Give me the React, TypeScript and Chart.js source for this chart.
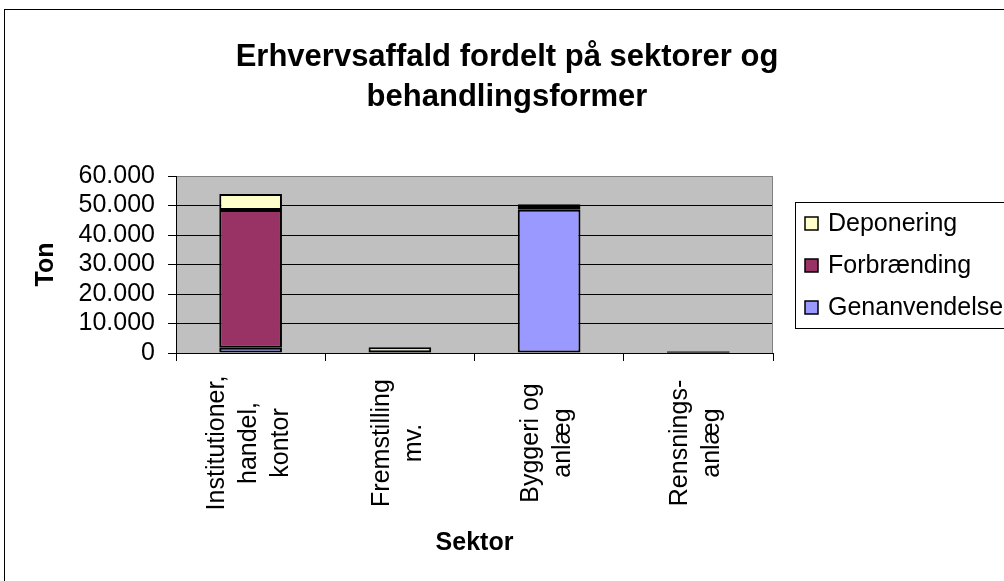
import React, { useEffect, useRef } from "react";
import { Chart, registerables } from "chart.js";

Chart.register(...registerables);

// ---- Data ----
const categories: string[][] = [
  ["Institutioner,", "handel,", "kontor"],
  ["Fremstilling", "mv."],
  ["Byggeri og", "anlæg"],
  ["Rensnings-", "anlæg"],
];
const genanvendelse = [1800, 100, 48600, 100];
const forbraending = [46700, 150, 1300, 400];
const deponering = [5400, 1700, 500, 150];
const seriesNames = ["Genanvendelse", "Forbrænding", "Deponering"];
const seriesColors = ["#9999FF", "#993366", "#FFFFCC"];
const yMin = 0;
const yMax = 60000;
const yStep = 10000;

const titleLines = ["Erhvervsaffald fordelt på sektorer og", "behandlingsformer"];
const yTitle = "Ton";
const xTitle = "Sektor";

const FONT = "'Liberation Sans', Arial, Helvetica, sans-serif";

function formatThousands(v: number): string {
  return String(Math.round(v)).replace(/\B(?=(\d{3})+(?!\d))/g, ".");
}

const decorPlugin = {
  id: "decor",
  beforeDraw(chart: any) {
    const { ctx, chartArea: a } = chart;
    ctx.save();
    ctx.fillStyle = "#ffffff";
    ctx.fillRect(0, 0, chart.width, chart.height);
    ctx.fillStyle = "#C0C0C0";
    ctx.fillRect(a.left, a.top, a.right - a.left, a.bottom - a.top);
    ctx.restore();
  },
  afterDraw(chart: any) {
    const { ctx, chartArea: a } = chart;
    ctx.save();
    // plot area right border
    ctx.strokeStyle = "#808080";
    ctx.lineWidth = 1;
    ctx.beginPath();
    ctx.moveTo(a.right - 0.5, a.top);
    ctx.lineTo(a.right - 0.5, a.bottom);
    ctx.stroke();

    // outer frame
    ctx.strokeStyle = "#000";
    ctx.lineWidth = 1;
    ctx.strokeRect(4.5, 9.5, 1200, 800);

    // title
    ctx.fillStyle = "#000";
    ctx.textAlign = "center";
    ctx.textBaseline = "middle";
    ctx.font = `bold 31px ${FONT}`;
    ctx.fillText(titleLines[0], 507, 57);
    ctx.fillText(titleLines[1], 507, 97);

    // y title
    ctx.save();
    ctx.translate(46, (a.top + a.bottom) / 2);
    ctx.rotate(-Math.PI / 2);
    ctx.font = `bold 25px ${FONT}`;
    ctx.fillText(yTitle, 0, 0);
    ctx.restore();

    // x title
    ctx.font = `bold 25px ${FONT}`;
    ctx.fillText(xTitle, (a.left + a.right) / 2, 543);

    // x category labels (rotated, centered lines)
    const xs = chart.scales.x;
    ctx.font = `25px ${FONT}`;
    const lineGap = 32;
    categories.forEach((lines, i) => {
      const cx = xs.getPixelForValue(i);
      const n = lines.length;
      lines.forEach((ln, j) => {
        const lx = cx - 2 + (j - (n - 1) / 2) * lineGap;
        ctx.save();
        ctx.translate(lx, 443);
        ctx.rotate(-Math.PI / 2);
        ctx.textAlign = "center";
        ctx.textBaseline = "middle";
        ctx.fillText(ln, 0, 0);
        ctx.restore();
      });
    });

    // legend
    ctx.strokeStyle = "#000";
    ctx.lineWidth = 1;
    ctx.strokeRect(795.5, 202.5, 300, 126);
    const legendOrder = [2, 1, 0];
    const legendY = [223, 265, 307];
    ctx.font = `25px ${FONT}`;
    ctx.textAlign = "left";
    ctx.textBaseline = "middle";
    legendOrder.forEach((si, k) => {
      const y = legendY[k];
      ctx.fillStyle = seriesColors[si];
      ctx.fillRect(805, y - 6, 13, 13);
      ctx.strokeStyle = "#000";
      ctx.lineWidth = 1.5;
      ctx.strokeRect(805, y - 6, 13, 13);
      ctx.fillStyle = "#000";
      ctx.fillText(seriesNames[si], 828, y + 1);
    });
    ctx.restore();
  },
};

export default function App() {
  const ref = useRef<HTMLCanvasElement | null>(null);

  useEffect(() => {
    document.body.style.margin = "0";
    document.body.style.overflow = "hidden";
    const canvas = ref.current;
    if (!canvas) return;
    const seriesData = [genanvendelse, forbraending, deponering];
    const chart = new Chart(canvas, {
      type: "bar",
      data: {
        labels: categories.map((c) => c.join(" ")),
        datasets: seriesData.map((d, i) => ({
          label: seriesNames[i],
          data: d,
          backgroundColor: seriesColors[i],
          borderColor: "#000",
          borderWidth: 2,
          borderSkipped: false,
          barPercentage: 0.42,
          categoryPercentage: 1,
        })),
      },
      options: {
        responsive: false,
        animation: false,
        devicePixelRatio: 1,
        layout: { padding: { left: 0, top: 176, right: 231, bottom: 0 } },
        plugins: {
          legend: { display: false },
          title: { display: false },
          tooltip: { enabled: false },
        },
        scales: {
          x: {
            stacked: true,
            offset: true,
            grid: {
              display: true,
              drawOnChartArea: false,
              drawTicks: true,
              tickLength: 8,
              color: "#000",
              offset: true,
            },
            border: { display: true, color: "#000", width: 1 },
            ticks: { display: false },
            afterFit: (s: any) => {
              s.height = 228;
            },
          },
          y: {
            stacked: true,
            min: yMin,
            max: yMax,
            ticks: {
              stepSize: yStep,
              autoSkip: false,
              color: "#000",
              padding: 13,
              font: { family: FONT, size: 25 },
              callback: (v: any) => formatThousands(Number(v)),
            },
            grid: {
              color: (c: any) => (c.tick && c.tick.value === yMax ? "#808080" : "#000"),
              tickColor: "#000",
              tickLength: 8,
              lineWidth: 1,
            },
            border: { display: true, color: "#000", width: 1 },
            afterFit: (s: any) => {
              s.width = 176;
            },
          },
        },
      } as any,
      plugins: [decorPlugin],
    });
    return () => chart.destroy();
  }, []);

  return (
    <div style={{ width: 1004, height: 581 }}>
      <canvas ref={ref} width={1004} height={581} style={{ display: "block", width: 1004, height: 581 }} />
    </div>
  );
}
